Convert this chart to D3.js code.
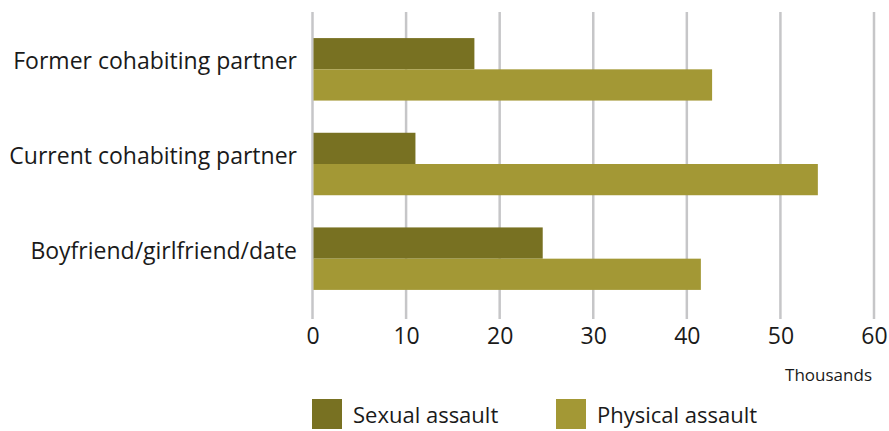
<html>
<head>
	<script src="https://d3js.org/d3.v7.min.js"></script>
	<style>
		body { margin: 0; background: #fff; }
		text { font-family: "Open Sans", "Noto Sans", sans-serif; fill: #1a1a1a; }
	</style>
</head>
<body>
	<script>
		var categories = ["Former cohabiting partner", "Current cohabiting partner", "Boyfriend/girlfriend/date"];
		var seriesNames = ["Sexual assault", "Physical assault"];
		var sexual = [17.3, 11.0, 24.6];
		var physical = [42.7, 54.0, 41.5];
		var ticks = [0, 10, 20, 30, 40, 50, 60];
		var colors = ["#787122", "#a39835"];

		var width = 889, height = 431;
		var x0 = 312.5, x1 = 874;

		var svg = d3.select("body").append("svg")
			.attr("width", width)
			.attr("height", height);

		var xScale = d3.scaleLinear().domain([0, 60]).range([x0, x1]);
		var yScale = d3.scaleBand().domain(categories).range([22, 306])
			.paddingInner(0.34).paddingOuter(0.17);
		var ySub = d3.scaleBand().domain(seriesNames).range([0, yScale.bandwidth()]);

		// gridlines
		svg.append("g").selectAll("line").data(ticks)
			.enter().append("line")
			.attr("x1", function(d) { return xScale(d); })
			.attr("x2", function(d) { return xScale(d); })
			.attr("y1", 12)
			.attr("y2", 319)
			.attr("stroke", "#c6c6c8")
			.attr("stroke-width", 2.5);

		var rows = categories.map(function(c, i) {
			return { cat: c, values: [sexual[i], physical[i]] };
		});

		var groups = svg.append("g").selectAll("g").data(rows)
			.enter().append("g")
			.attr("transform", function(d) { return "translate(0," + yScale(d.cat) + ")"; });

		groups.selectAll("rect").data(function(d) { return d.values; })
			.enter().append("rect")
			.attr("x", xScale(0) + 1)
			.attr("y", function(d, i) { return ySub(seriesNames[i]); })
			.attr("width", function(d) { return xScale(d) - xScale(0) - 1; })
			.attr("height", ySub.bandwidth())
			.attr("fill", function(d, i) { return colors[i]; });

		// category labels
		svg.append("g").selectAll("text").data(categories)
			.enter().append("text")
			.attr("x", 297)
			.attr("y", function(d) { return yScale(d) + yScale.bandwidth() / 2 - 6; })
			.attr("text-anchor", "end")
			.attr("dominant-baseline", "middle")
			.style("font-size", "23px")
			.text(function(d) { return d; });

		// x axis tick labels
		var xAxis = d3.axisBottom(xScale).tickValues(ticks).tickSize(0).tickPadding(0);
		var xAxisG = svg.append("g")
			.attr("transform", "translate(0,328)")
			.call(xAxis);
		xAxisG.select(".domain").remove();
		xAxisG.selectAll("text")
			.attr("dy", "0.71em")
			.style("font-size", "23px")
			.style("font-family", "'Open Sans', 'Noto Sans', sans-serif")
			.style("fill", "#1a1a1a");

		svg.append("text")
			.attr("x", 872)
			.attr("y", 381)
			.attr("text-anchor", "end")
			.style("font-size", "17px")
			.text("Thousands");

		// legend
		var legendX = [312, 556];
		var legend = svg.append("g").selectAll("g").data(seriesNames)
			.enter().append("g")
			.attr("transform", function(d, i) { return "translate(" + legendX[i] + ",399)"; });
		legend.append("rect")
			.attr("width", 30)
			.attr("height", 30)
			.attr("fill", function(d, i) { return colors[i]; });
		legend.append("text")
			.attr("x", 41)
			.attr("y", 24)
			.style("font-size", "22px")
			.text(function(d) { return d; });
	</script>
</body>
</html>
